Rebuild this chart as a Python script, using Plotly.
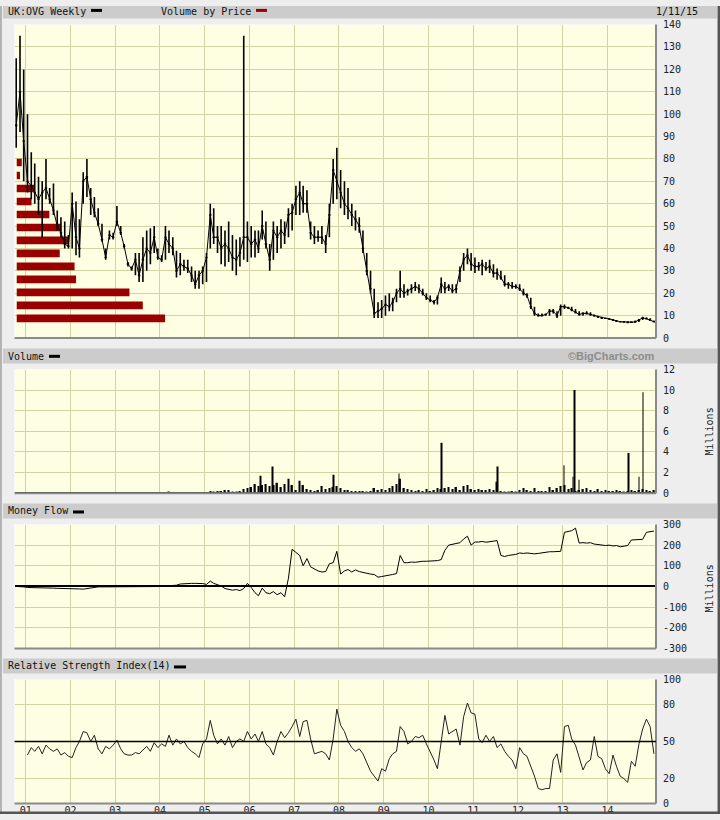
import pandas as pd
import plotly.graph_objects as go

# monthly sample points (mid-month), Oct 2000 .. Jan 2015
months = pd.date_range("2000-10-01", "2015-01-01", freq="MS") + pd.Timedelta(days=14)

price_high = [
    125, 135, 120, 100, 83, 78, 72, 70, 80, 67,
    69, 57, 54, 52, 46, 65, 61, 53, 74, 80,
    67, 63, 58, 51, 40, 48, 47, 59, 50, 42,
    34, 32, 38, 38, 45, 48, 49, 50, 40, 37,
    50, 48, 45, 39, 38, 35, 35, 32, 30, 30,
    32, 38, 60, 58, 50, 50, 48, 52, 46, 44,
    45, 135, 52, 50, 48, 48, 57, 52, 42, 52,
    50, 53, 52, 58, 60, 68, 70, 68, 66, 52,
    50, 48, 50, 46, 60, 80, 85, 75, 70, 67,
    60, 57, 54, 48, 38, 30, 22, 16, 17, 19,
    20, 18, 22, 30, 24, 22, 24, 25, 24, 22,
    20, 19, 17, 19, 27, 25, 24, 24, 24, 32,
    38, 40, 38, 36, 34, 35, 34, 35, 33, 31,
    30, 28, 25, 25, 24, 24, 22, 20, 18, 14,
    11, 11, 11, 13, 13, 12, 15, 15, 14, 14,
    13, 12, 11.5, 12, 11.5, 10.5, 10, 9.5, 9, 9,
    8.5, 8, 7.6, 7.5, 7.5, 7.5, 7.8, 8.5, 9.5, 9.3,
    8.8, 7.8,
]
price_low = [
    85, 92, 70, 65, 62, 60, 55, 45, 62, 60,
    55, 48, 45, 40, 40, 40, 37, 36, 60, 63,
    55, 54, 50, 43, 35, 44, 44, 50, 46, 40,
    32, 30, 28, 25, 25, 30, 33, 38, 35, 34,
    35, 38, 37, 27, 28, 30, 29, 25, 22, 22,
    24, 25, 40, 42, 38, 33, 32, 34, 30, 28,
    32, 35, 34, 36, 36, 38, 44, 40, 30, 35,
    38, 40, 42, 45, 48, 55, 55, 56, 56, 44,
    42, 43, 42, 38, 45, 60, 62, 58, 55, 53,
    50, 48, 47, 38, 28, 20, 9, 9, 9, 10,
    12, 12, 16, 18, 18, 19, 20, 21, 20, 19,
    17, 16, 15, 15, 20, 20, 21, 20, 20, 25,
    30, 33, 30, 29, 30, 28, 30, 29, 27, 26,
    26, 23, 22, 22, 22, 21, 19, 18, 13, 10,
    10, 10, 10, 10, 11, 9, 10, 13, 13, 12,
    11, 10, 10, 10.5, 10, 9.5, 9, 8.5, 8.5, 8.3,
    7.6, 7.3, 7, 6.8, 6.8, 6.8, 6.8, 7.2, 8, 8.3,
    7.6, 7,
]
price_close = [
    95, 110, 88, 70, 68, 65, 62, 65, 67, 62,
    57, 50, 47, 42, 41, 60, 45, 40, 70, 72,
    62, 56, 51, 44, 36, 46, 45, 52, 47, 41,
    33, 31, 35, 28, 35, 40, 38, 45, 36, 35,
    45, 42, 40, 30, 33, 32, 31, 28, 24, 28,
    30, 36, 55, 45, 45, 40, 42, 40, 36, 35,
    38, 45, 45, 42, 44, 40, 50, 42, 35, 48,
    45, 48, 46, 55, 56, 62, 65, 60, 60, 47,
    45, 45, 45, 42, 55, 75, 70, 65, 60, 58,
    55, 53, 50, 40, 30, 22, 11, 12, 13, 15,
    14, 16, 20, 22, 20, 21, 22, 23, 22, 20,
    18, 17, 16, 18, 24, 22, 23, 21, 22, 30,
    35, 37, 33, 32, 32, 33, 31, 32, 29, 29,
    27, 24, 24, 23, 23, 22, 20, 19, 14, 11,
    10, 10, 10.5, 12, 12, 10, 14, 14, 13.5, 12.5,
    11.5, 10.5, 11, 11, 10.5, 10, 9.5, 9, 8.8, 8.5,
    8, 7.5, 7.3, 7.2, 7, 7.1, 7.2, 8, 9, 8.6,
    8, 7.3,
]

# volume, millions
volume = [
    0, 0, 0, 0, 0, 0, 0, 0, 0, 0,
    0, 0, 0, 0, 0, 0, 0, 0, 0, 0,
    0, 0, 0, 0, 0, 0, 0, 0, 0, 0,
    0, 0, 0, 0, 0, 0, 0, 0, 0, 0,
    0, 0.15, 0, 0, 0, 0, 0, 0, 0, 0,
    0, 0, 0.2, 0.1, 0.2, 0.2, 0.3, 0.3, 0.1, 0.1,
    0.2, 0.4, 0.5, 0.6, 0.9, 0.7, 0.8, 0.9, 0.7, 0.8,
    1.0, 0.6, 0.9, 1.4, 0.8, 0.3, 1.2, 0.8, 0.4, 0.3,
    0.2, 0.3, 0.7, 0.4, 0.5, 0.6, 0.7, 0.5, 0.3, 0.3,
    0.2, 0.2, 0.2, 0.2, 0.1, 0.2, 0.5, 0.3, 0.4, 0.3,
    0.5, 0.7, 0.9, 1.4, 0.5, 0.4, 0.3, 0.2, 0.3, 0.2,
    0.4, 0.2, 0.3, 0.5, 0.4, 0.5, 0.6, 0.4, 0.6, 0.3,
    0.7, 0.8, 0.4, 0.3, 0.4, 0.3, 0.3, 0.4, 0.3, 1.1,
    0.2, 0.1, 0.1, 0.2, 0.1, 0.3, 0.5, 0.3, 0.2, 0.5,
    0.2, 0.2, 0.2, 0.6, 0.3, 0.5, 0.7, 0.8, 0.4, 0.5,
    0.2, 0.3, 0.4, 0.5, 0.3, 0.2, 0.4, 0.2, 0.3, 0.2,
    0.2, 0.3, 0.2, 0.1, 0.2, 0.3, 0.2, 0.3, 0.4, 0.3,
    0.2, 0.3,
]
spike_dates = [
    "2006-04-04", "2006-07-11", "2007-11-21", "2009-05-05", "2010-04-20",
    "2011-07-21", "2013-01-11", "2013-03-25", "2013-04-10", "2013-05-13",
    "2014-06-25", "2014-09-15", "2014-10-18",
]
spike_volume = [1.7, 2.6, 1.8, 1.9, 4.9, 2.6, 2.7, 1.6, 10.0, 1.3, 3.9, 1.6, 9.8]

# money flow, millions
money_flow = [
    0, 0, -2, -5, -5, -6, -7, -8, -8, -8,
    -8, -9, -9, -10, -10, -10, -11, -12, -13, -10,
    -5, -3, -2, -2, -2, -2, -2, -2, -2, -3,
    -3, -3, -3, -3, -3, -3, -3, -3, -3, -3,
    -2, 0, 5, 6, 12, 14, 15, 15, 15, 15,
    14, 10, 26, 15, 8, 2, -10, -15, -18, -15,
    -20, -10, 15, -5, -30, -45, -8, -30, -35, -25,
    -40, -30, -50, 40, 180, 165, 150, 100, 135, 95,
    85, 75, 70, 72, 110, 115, 170, 60, 75, 82,
    70, 80, 72, 68, 62, 60, 58, 45, 48, 50,
    55, 58, 62, 150, 115, 115, 118, 117, 120, 122,
    122, 123, 124, 125, 130, 175, 200, 205, 208, 212,
    230, 243, 200, 215, 215, 218, 214, 216, 218, 222,
    150, 145, 150, 152, 155, 162, 160, 162, 160, 158,
    160, 163, 165, 168, 168, 170, 170, 262, 265, 270,
    282, 210, 212, 210, 212, 205, 203, 200, 198, 200,
    196, 198, 192, 195, 198, 225, 225, 228, 228, 262,
    265, 268,
]

rsi = [
    None, None, None, 39, 45, 42, 46, 40, 47, 44,
    42, 44, 39, 41, 38, 37, 45, 50, 58, 57,
    50, 55, 44, 40, 46, 44, 47, 51, 44, 40,
    39, 39, 41, 40, 43, 46, 42, 49, 45, 48,
    46, 55, 47, 52, 48, 50, 45, 42, 40, 37,
    48, 52, 67, 55, 48, 52, 47, 54, 45, 50,
    52, 50, 58, 52, 56, 50, 58, 48, 45, 39,
    50, 58, 53, 57, 62, 68, 54, 66, 67, 52,
    40, 41, 42, 40, 35, 52, 76, 63, 58, 50,
    45, 42, 44, 40, 33, 26, 22, 18, 28, 26,
    36, 40, 42, 62, 58, 48, 50, 54, 53, 55,
    48, 42, 35, 28, 50, 71, 56, 58, 60, 47,
    70, 81, 73, 72, 52, 49, 55, 50, 54, 45,
    48, 42, 38, 35, 28, 45, 40, 38, 30, 22,
    12, 11, 12, 12, 35, 40, 25, 62, 63, 52,
    47, 38, 27, 33, 35, 54, 38, 36, 28, 24,
    39, 30, 22, 20, 17, 34, 30, 48, 60, 68,
    62, 40,
]

# volume by price (relative, largest = 100)
vbp_price = [8.8, 14.6, 20.4, 26.2, 32.0, 37.8, 43.6, 49.4, 55.2, 61.0, 66.8, 72.6, 78.4]
vbp_volume = [100, 85, 76, 40, 39, 29, 35, 30, 22, 10, 12, 2.2, 3.4]

year_ticks = ["%d-01-01" % y for y in range(2001, 2015)]
year_labels = ["%02d" % (y % 100) for y in range(2001, 2015)]
mf_ticks = [-300, -200, -100, 0, 100, 200, 300]
mf_labels = ["-300", "-200", "-100", "0", "100", "200", "300"]
rsi_ticks = [0, 20, 50, 80, 100]

W, H = 720, 820
FONT = "DejaVu Sans Mono"
GRID = "#d2d2a2"
DAY = 86400000
# the capture squeezes the page a little vertically; pre-compensate
Y_OFF, Y_SCALE = 4.4, 0.9856


def px(x):
    return x / W


def py(y):
    p = 1 - ((y - Y_OFF) / Y_SCALE) / H
    return min(1.0, max(0.0, p))


x_dom = [px(14.5), px(656)]
x_range = ["2000-10-01", "2015-02-01"]
panels = {
    "y": [py(336.5), py(23)],
    "y2": [py(491.7), py(368)],
    "y3": [py(647), py(523)],
    "y4": [py(802), py(678)],
}

fig = go.Figure()

fig.add_trace(go.Bar(
    x=vbp_volume, y=vbp_price, orientation="h", width=3.4,
    marker=dict(color="#990000", line_width=0),
    xaxis="x5", yaxis="y"))

# thin close line so the weekly bars read as one continuous ribbon
fig.add_trace(go.Scatter(
    x=months, y=price_close, mode="lines",
    line=dict(color="black", width=1), xaxis="x", yaxis="y"))

fig.add_trace(go.Ohlc(
    x=months, open=price_close, high=price_high, low=price_low, close=price_close,
    increasing=dict(line=dict(color="black", width=1.6)),
    decreasing=dict(line=dict(color="black", width=1.6)),
    tickwidth=0.35, xaxis="x", yaxis="y"))

fig.add_trace(go.Bar(
    x=months, y=volume, width=12 * DAY,
    marker=dict(color="black", line_width=0), xaxis="x2", yaxis="y2"))
fig.add_trace(go.Bar(
    x=spike_dates, y=spike_volume, width=7 * DAY,
    marker=dict(color="black", line_width=0), xaxis="x2", yaxis="y2"))

fig.add_trace(go.Scatter(
    x=months, y=money_flow, mode="lines",
    line=dict(color="black", width=1), xaxis="x3", yaxis="y3"))

fig.add_trace(go.Scatter(
    x=months, y=rsi, mode="lines",
    line=dict(color="#222", width=1), xaxis="x4", yaxis="y4"))

common_x = dict(range=x_range, domain=x_dom, type="date", tickvals=year_ticks,
                showgrid=True, gridcolor=GRID, gridwidth=1, zeroline=False,
                showline=False, ticks="", showticklabels=False)
common_y = dict(side="right", showgrid=True, gridcolor=GRID, gridwidth=1,
                ticks="", showline=False, ticklabelstandoff=6,
                tickfont=dict(family=FONT, size=10, color="#222"))

fig.update_layout(
    width=W, height=H,
    margin=dict(l=0, r=0, t=0, b=0),
    paper_bgcolor="#eeeeee",
    plot_bgcolor="#fefee2",
    showlegend=False,
    barmode="overlay",
    font=dict(family=FONT, size=10, color="#111"),
    xaxis5=dict(range=[-1.5, 431], domain=x_dom, anchor="y", visible=False),
    xaxis=dict(**common_x, anchor="y", overlaying="x5", rangeslider=dict(visible=False)),
    xaxis2=dict(**common_x, anchor="y2"),
    xaxis3=dict(**common_x, anchor="y3"),
    xaxis4=dict(common_x, anchor="y4", showticklabels=True, ticktext=year_labels,
                tickfont=dict(family=FONT, size=10, color="#222")),
    yaxis=dict(**common_y, domain=panels["y"], range=[0, 140], dtick=10,
               anchor="x5", zeroline=False),
    yaxis2=dict(**common_y, domain=panels["y2"], range=[0, 12], dtick=2,
                anchor="x2", zeroline=True, zerolinecolor="black", zerolinewidth=2),
    yaxis3=dict(**common_y, domain=panels["y3"], range=[-300, 300], tickvals=mf_ticks,
                ticktext=mf_labels, anchor="x3", zeroline=True,
                zerolinecolor="black", zerolinewidth=1.5),
    yaxis4=dict(**common_y, domain=panels["y4"], range=[0, 100], tickvals=rsi_ticks,
                anchor="x4", zeroline=False),
)

shapes = []
# header bars
for top, bottom in [(2, 17), (347, 362), (502, 517), (657, 672)]:
    shapes.append(dict(type="rect", xref="paper", yref="paper", x0=px(3), x1=px(717),
                       y0=py(bottom), y1=py(top), fillcolor="#cccccc",
                       line_width=0, layer="below"))
# legend swatches
for x0, x1, y0, y1, col in [(91, 102, 7.3, 10.3, "black"), (256, 267, 7.3, 10.3, "#990000"),
                            (49, 60, 353.3, 356.3, "black"), (73, 84, 509, 512, "black"),
                            (174, 186, 664, 667, "black")]:
    shapes.append(dict(type="rect", xref="paper", yref="paper", x0=px(x0), x1=px(x1),
                       y0=py(y1), y1=py(y0), fillcolor=col, line_width=0))
# panel edges: light top/left, dark bottom/right
for xa, ya in [("x5", "y"), ("x2", "y2"), ("x3", "y3"), ("x4", "y4")]:
    xr, yr = xa + " domain", ya + " domain"
    shapes.append(dict(type="line", xref=xr, yref=yr, x0=0, x1=1, y0=1, y1=1,
                       line=dict(color="#f8f8f8", width=1)))
    shapes.append(dict(type="line", xref=xr, yref=yr, x0=0, x1=0, y0=0, y1=1,
                       line=dict(color="#f8f8f8", width=1)))
    shapes.append(dict(type="line", xref=xr, yref=yr, x0=0, x1=1, y0=0, y1=0,
                       line=dict(color="#8a8a8a", width=2)))
    shapes.append(dict(type="line", xref=xr, yref=yr, x0=1, x1=1, y0=0, y1=1,
                       line=dict(color="#8a8a8a", width=2)))
# RSI midline
shapes.append(dict(type="line", xref="x4 domain", yref="y4", x0=0, x1=1, y0=50, y1=50,
                   line=dict(color="black", width=1.5)))
# outer frame
shapes.append(dict(type="line", xref="paper", yref="paper", x0=px(1), x1=px(1), y0=0, y1=1,
                   line=dict(color="#a0a0a0", width=1.5)))
shapes.append(dict(type="line", xref="paper", yref="paper", x0=px(718.8), x1=px(718.8),
                   y0=0, y1=1, line=dict(color="#555", width=2.5)))
shapes.append(dict(type="line", xref="paper", yref="paper", x0=0, x1=1, y0=0.0015,
                   y1=0.0015, line=dict(color="#555", width=2.5)))
fig.update_layout(shapes=shapes)

annotations = []
for text, x, y, anchor in [("UK:OVG Weekly", 6, 9.5, "left"),
                           ("Volume by Price", 159, 9.5, "left"),
                           ("1/11/15", 700, 9.5, "right"),
                           ("Volume", 6, 354.5, "left"),
                           ("Money Flow", 6, 509.5, "left"),
                           ("Relative Strength Index(14)", 6, 664.5, "left")]:
    annotations.append(dict(text=text, x=px(x), y=py(y), xref="paper", yref="paper",
                            xanchor=anchor, yanchor="middle", showarrow=False,
                            font=dict(family=FONT, size=10, color="#111")))
annotations.append(dict(text="<b>©BigCharts.com</b>", x=px(657), y=py(354.5),
                        xref="paper", yref="paper", xanchor="right", yanchor="middle",
                        showarrow=False,
                        font=dict(family="Liberation Sans", size=11, color="#8c8c8c")))
for ymid in [430, 587]:
    annotations.append(dict(text="Millions", x=px(709), y=py(ymid), xref="paper",
                            yref="paper", textangle=-90, showarrow=False,
                            xanchor="center", yanchor="middle",
                            font=dict(family=FONT, size=10, color="#222")))
fig.update_layout(annotations=annotations)

# pin the figure to the window origin (no page margin, no scrolling)
pin = ("document.body.style.margin='0';"
       "document.body.style.background='#eeeeee';"
       "document.documentElement.style.background='#eeeeee';"
       "document.documentElement.style.overflow='hidden';"
       "var d=document.getElementById('{plot_id}');"
       "d.style.position='absolute';d.style.top='0';d.style.left='0';")
fig.write_html("out.html", config={"displayModeBar": False}, post_script=pin)
